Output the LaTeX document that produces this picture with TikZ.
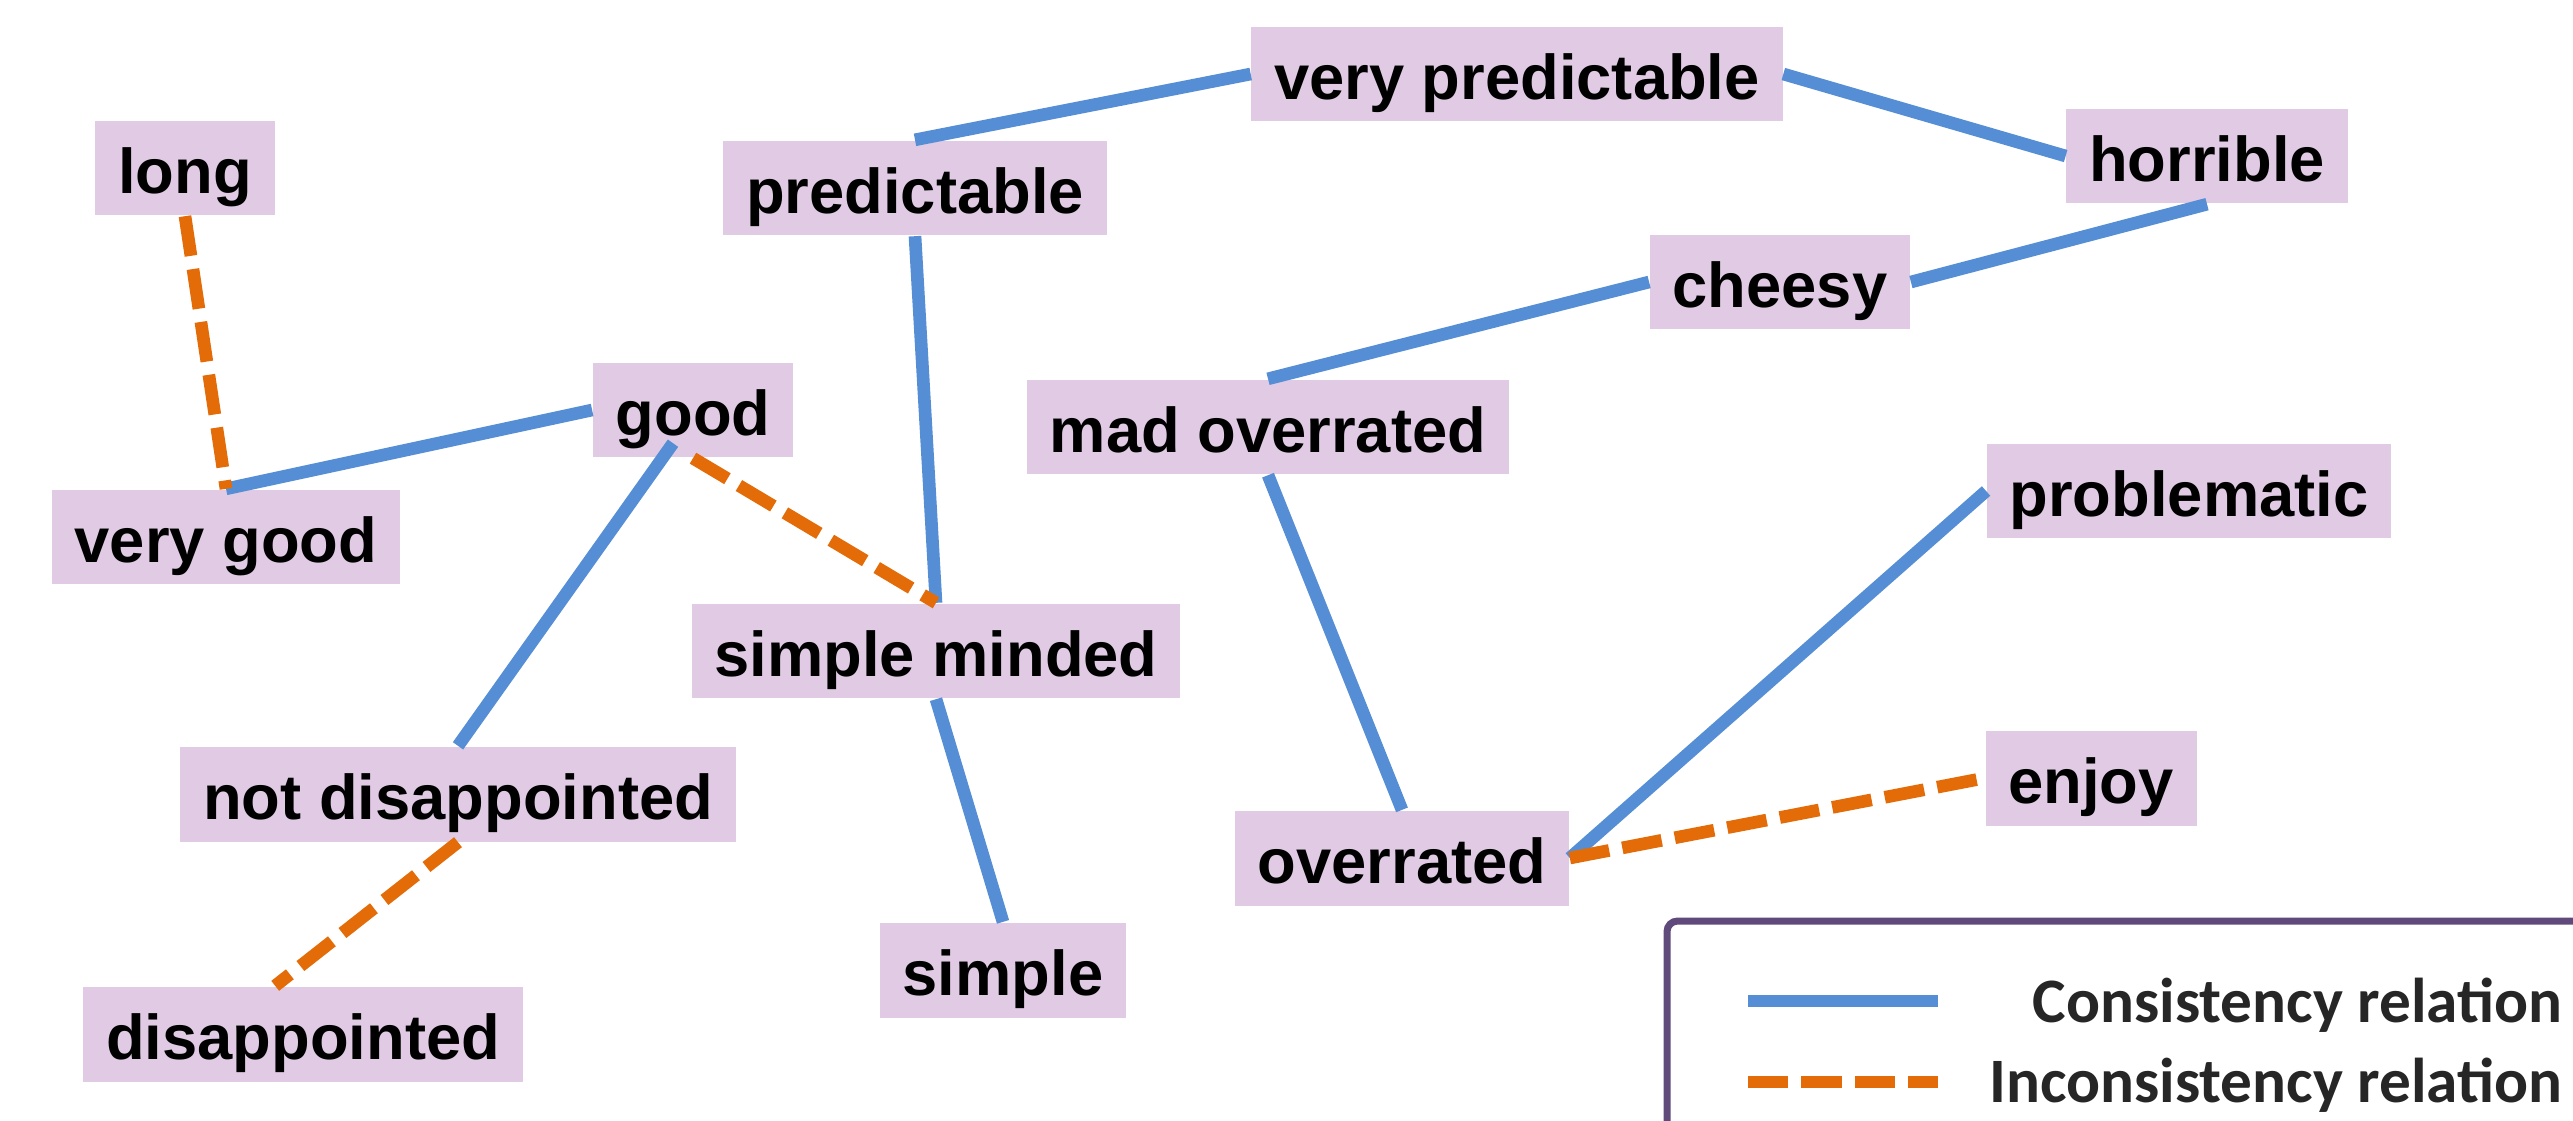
\documentclass[tikz,border=0pt]{standalone}
\usepackage{fontspec}
\setmainfont{Liberation Sans}
\newfontfamily\legendfont{Carlito}
\usetikzlibrary{calc}
\definecolor{relblue}{HTML}{558ED5}
\definecolor{relorange}{HTML}{E36C09}
\definecolor{boxfill}{HTML}{E0CAE4}
\definecolor{legendframe}{HTML}{604A7B}
\definecolor{legendtext}{HTML}{262626}

\begin{document}
\begin{tikzpicture}[x=0.01cm, y=-0.01cm,
  word/.style={fill=boxfill, font=\fontsize{18}{20}\selectfont\bfseries,
    inner xsep=6.5pt, inner ysep=5pt, text height=15.8pt, text depth=1.2pt},
  consistent/.style={relblue, line width=3.6pt},
  inconsistent/.style={relorange, line width=3.6pt, dash pattern=on 11.4pt off 3.8pt},
  legendlabel/.style={anchor=base east, inner sep=0pt, text=legendtext,
    font=\legendfont\fontsize{18}{20}\selectfont\bfseries}]
\clip (0,0) rectangle (2573,1120);

% words
\node[word] (long) at (185,168) {long};
\node[word] (verygood) at (226,537) {very good};
\node[word] (good) at (693,410) {good};
\node[word] (predictable) at (915,188) {predictable};
\node[word] (verypred) at (1517,74) {very predictable};
\node[word] (horrible) at (2207,156) {horrible};
\node[word] (cheesy) at (1780,282) {cheesy};
\node[word] (madover) at (1268,427) {mad overrated};
\node[word] (problematic) at (2189,491) {problematic};
\node[word] (simplemind) at (936,651) {simple minded};
\node[word] (notdisap) at (458,794) {not disappointed};
\node[word] (disap) at (303,1034) {disappointed};
\node[word] (simple) at (1003,970) {simple};
\node[word] (overrated) at (1402,858) {overrated};
\node[word] (enjoy) at (2091,778) {enjoy};

% consistency relations
\draw[consistent] (verygood.north) -- (good.west);
\draw[consistent] ($(good.south)+(-20,-15)$) -- (notdisap.north);
\draw[consistent] (predictable.south) -- (simplemind.north);
\draw[consistent] (predictable.north) -- (verypred.west);
\draw[consistent] (verypred.east) -- (horrible.west);
\draw[consistent] (horrible.south) -- (cheesy.east);
\draw[consistent] (cheesy.west) -- (madover.north);
\draw[consistent] (madover.south) -- (overrated.north);
\draw[consistent] (overrated.east) -- (problematic.west);
\draw[consistent] (simplemind.south) -- (simple.north);

% inconsistency relations
\draw[inconsistent] (long.south) -- (verygood.north);
\draw[inconsistent] (good.south) -- (simplemind.north);
\draw[inconsistent] (overrated.east) -- (enjoy.west);
\draw[inconsistent] (notdisap.south) -- (disap.120);

% legend
\draw[legendframe, line width=2pt, rounded corners=3pt] (1667,921) rectangle (2700,1250);
\coordinate (conA) at (1748,1001);
\coordinate (conB) at (1938,1001);
\coordinate (incA) at (1748,1082);
\coordinate (incB) at (1938,1082);
\draw[consistent] (conA) -- (conB);
\draw[inconsistent] (incA) -- (incB);
\node[legendlabel] (conlabel) at (2563,1022) {Consistency relation};
\node[legendlabel] (inclabel) at (2563,1102) {Inconsistency relation};
\end{tikzpicture}
\end{document}
